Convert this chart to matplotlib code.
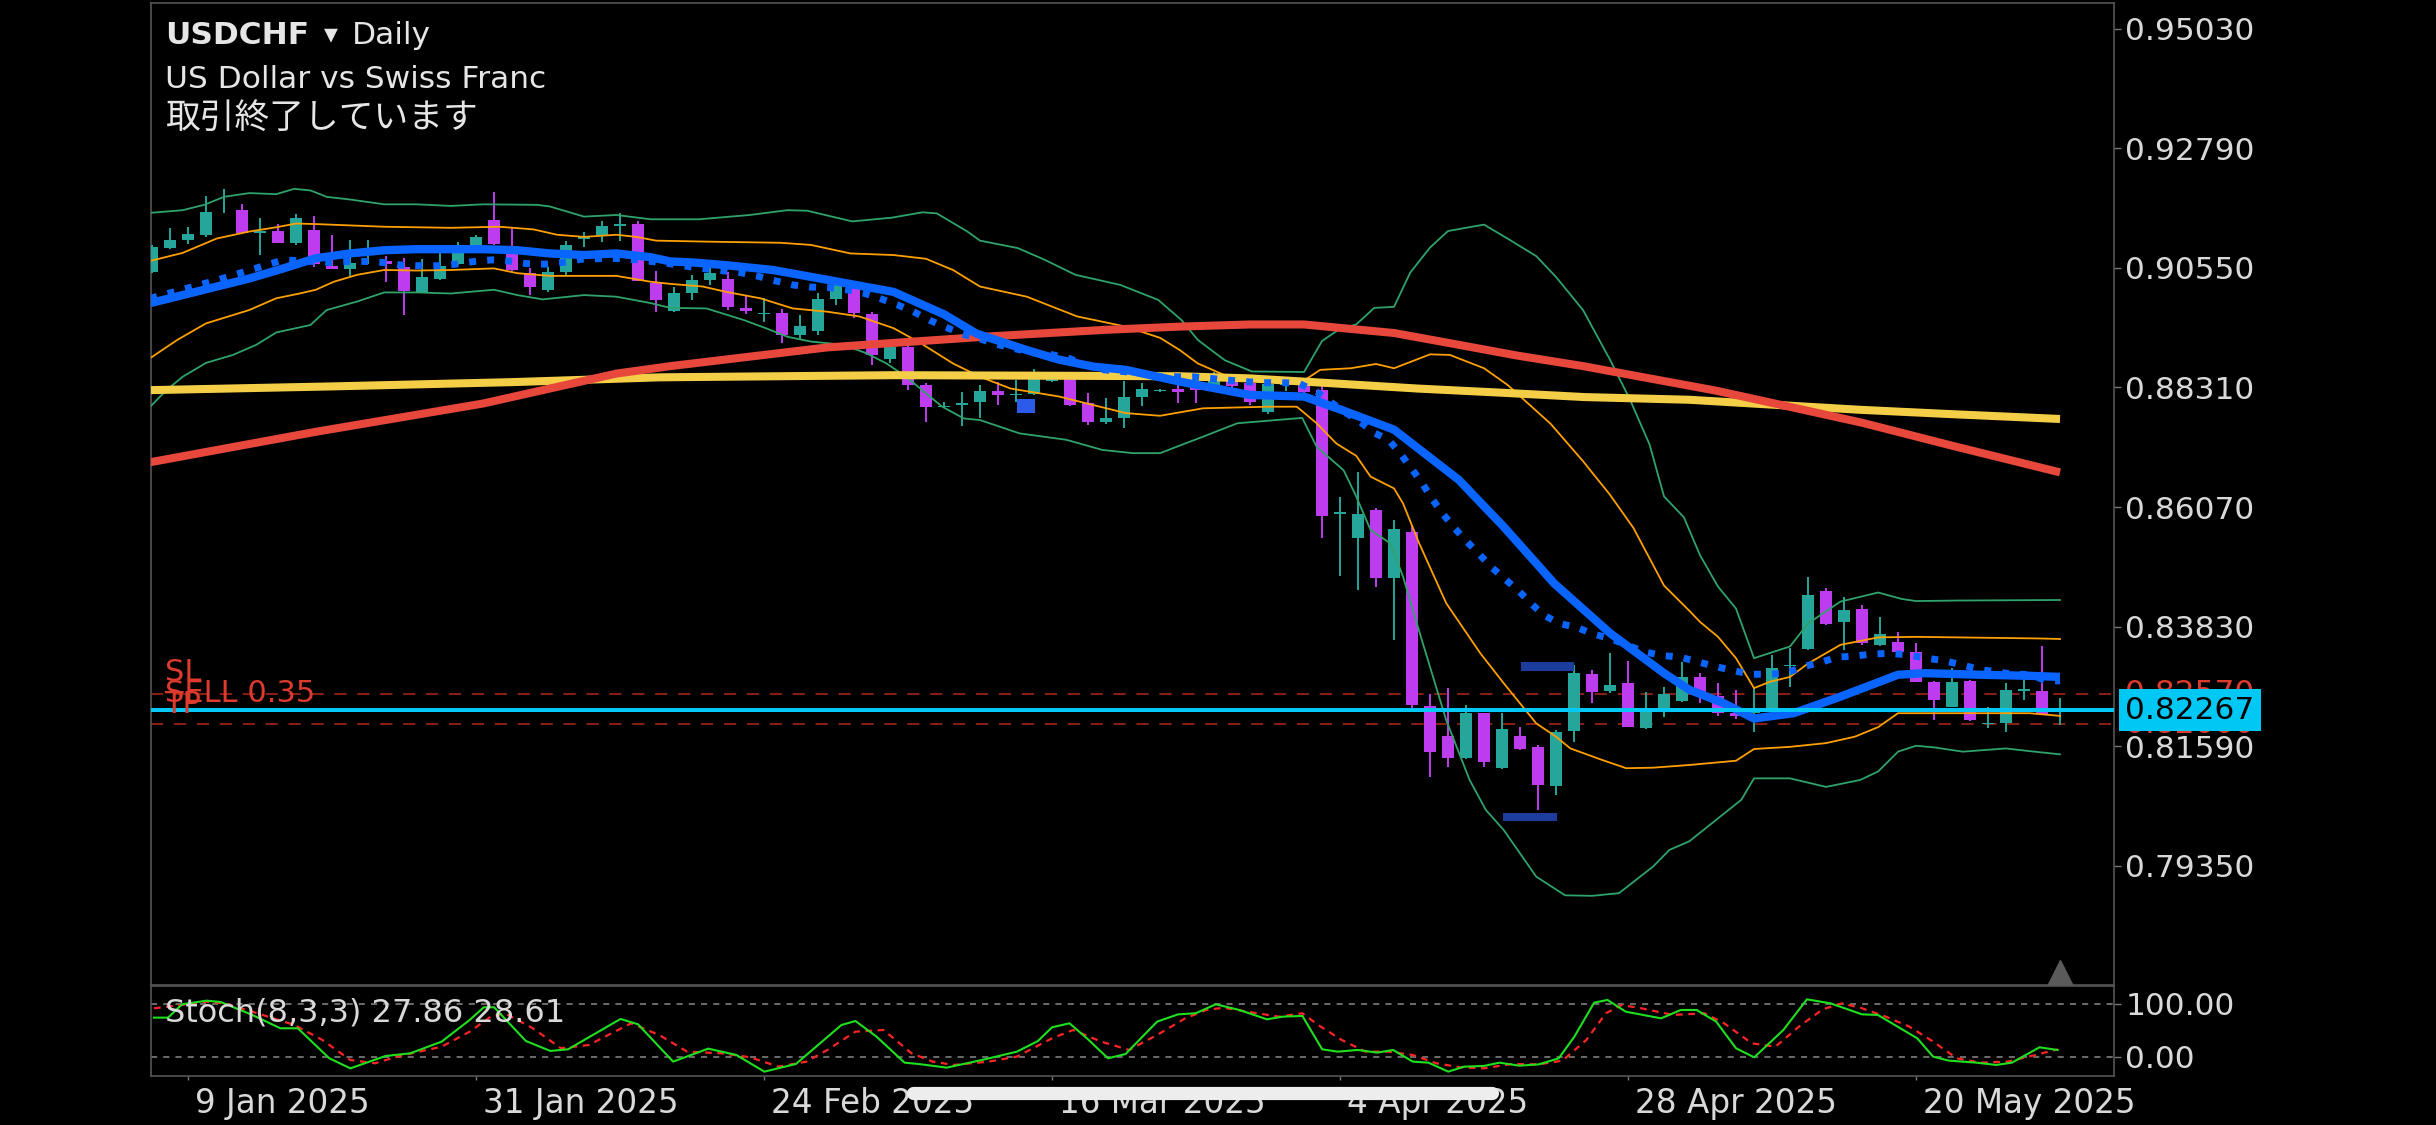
import numpy as np
import matplotlib.pyplot as plt
from matplotlib import transforms
from matplotlib.lines import Line2D

plt.rcParams['font.family'] = ['DejaVu Sans', 'Noto Sans CJK JP']

# daily USDCHF bars, left to right (index 0 = first visible bar)
opens = [0.9047, 0.9093, 0.9107, 0.9117, 0.9159, 0.9163, 0.9120, 0.9124, 0.9102, 0.9126,
         0.9059, 0.9053, 0.9067, 0.9068, 0.9057, 0.9010, 0.9034, 0.9062, 0.9097, 0.9145,
         0.9082, 0.9045, 0.9014, 0.9048, 0.9109, 0.9117, 0.9133, 0.9137, 0.9026, 0.8974,
         0.9007, 0.9032, 0.9035, 0.8979, 0.8968, 0.8970, 0.8929, 0.8937, 0.8996, 0.9017,
         0.8968, 0.8884, 0.8906, 0.8836, 0.8795, 0.8799, 0.8803, 0.8824, 0.8817, 0.8818,
         0.8844, 0.8848, 0.8801, 0.8766, 0.8773, 0.8813, 0.8825, 0.8829, 0.8834, 0.8833,
         0.8848, 0.8839, 0.8786, 0.8836, 0.8835, 0.8826, 0.8594, 0.8549, 0.8602, 0.8474,
         0.8560, 0.8235, 0.8178, 0.8137, 0.8221, 0.8119, 0.8178, 0.8157, 0.8085, 0.8188,
         0.8294, 0.8263, 0.8278, 0.8193, 0.8230, 0.8244, 0.8289, 0.8254, 0.8221, 0.8221,
         0.8228, 0.8310, 0.8341, 0.8450, 0.8391, 0.8416, 0.8349, 0.8354, 0.8336, 0.8280,
         0.8233, 0.8281, 0.8200, 0.8202, 0.8263, 0.8263, 0.8226]
highs = [0.9098, 0.9129, 0.9131, 0.9190, 0.9202, 0.9175, 0.9148, 0.9137, 0.9155, 0.9153,
         0.9116, 0.9107, 0.9108, 0.9077, 0.9073, 0.9071, 0.9082, 0.9104, 0.9117, 0.9198,
         0.9129, 0.9054, 0.9057, 0.9106, 0.9123, 0.9142, 0.9157, 0.9142, 0.9050, 0.9019,
         0.9042, 0.9054, 0.9048, 0.9004, 0.8998, 0.8978, 0.8967, 0.9007, 0.9035, 0.9026,
         0.8973, 0.8914, 0.8914, 0.8839, 0.8804, 0.8822, 0.8836, 0.8841, 0.8845, 0.8865,
         0.8858, 0.8851, 0.8820, 0.8811, 0.8844, 0.8840, 0.8829, 0.8836, 0.8839, 0.8860,
         0.8856, 0.8845, 0.8840, 0.8848, 0.8840, 0.8833, 0.8625, 0.8673, 0.8605, 0.8583,
         0.8573, 0.8257, 0.8268, 0.8236, 0.8222, 0.8221, 0.8195, 0.8162, 0.8190, 0.8311,
         0.8302, 0.8334, 0.8318, 0.8261, 0.8271, 0.8316, 0.8297, 0.8277, 0.8264, 0.8271,
         0.8330, 0.8343, 0.8477, 0.8455, 0.8439, 0.8424, 0.8402, 0.8374, 0.8353, 0.8281,
         0.8305, 0.8283, 0.8233, 0.8277, 0.8289, 0.8346, 0.8249]
lows = [0.9045, 0.9090, 0.9100, 0.9113, 0.9157, 0.9118, 0.9080, 0.9101, 0.9098, 0.9057,
        0.9052, 0.9039, 0.9062, 0.9029, 0.8967, 0.9009, 0.9033, 0.9060, 0.9082, 0.9098,
        0.9050, 0.9004, 0.9009, 0.9042, 0.9095, 0.9104, 0.9106, 0.9030, 0.8973, 0.8973,
        0.8995, 0.9023, 0.8976, 0.8969, 0.8954, 0.8914, 0.8920, 0.8929, 0.8986, 0.8961,
        0.8873, 0.8876, 0.8826, 0.8767, 0.8792, 0.8758, 0.8773, 0.8799, 0.8804, 0.8817,
        0.8842, 0.8797, 0.8761, 0.8762, 0.8756, 0.8797, 0.8822, 0.8801, 0.8801, 0.8825,
        0.8825, 0.8798, 0.8782, 0.8825, 0.8818, 0.8549, 0.8478, 0.8451, 0.8457, 0.8359,
        0.8230, 0.8101, 0.8120, 0.8135, 0.8121, 0.8116, 0.8153, 0.8040, 0.8067, 0.8168,
        0.8240, 0.8258, 0.8195, 0.8192, 0.8213, 0.8242, 0.8240, 0.8215, 0.8211, 0.8186,
        0.8226, 0.8271, 0.8339, 0.8387, 0.8339, 0.8349, 0.8346, 0.8327, 0.8279, 0.8208,
        0.8232, 0.8207, 0.8193, 0.8186, 0.8246, 0.8218, 0.8199]
closes = [0.9095, 0.9107, 0.9118, 0.9160, 0.9160, 0.9120, 0.9124, 0.9102, 0.9149, 0.9063,
          0.9053, 0.9065, 0.9068, 0.9062, 0.9012, 0.9037, 0.9059, 0.9082, 0.9112, 0.9100,
          0.9051, 0.9019, 0.9048, 0.9097, 0.9113, 0.9134, 0.9137, 0.9031, 0.8995, 0.9007,
          0.9032, 0.9046, 0.8981, 0.8975, 0.8970, 0.8929, 0.8946, 0.8997, 0.9023, 0.8970,
          0.8892, 0.8906, 0.8836, 0.8795, 0.8797, 0.8801, 0.8825, 0.8817, 0.8819, 0.8851,
          0.8851, 0.8799, 0.8766, 0.8773, 0.8813, 0.8829, 0.8826, 0.8823, 0.8826, 0.8851,
          0.8833, 0.8803, 0.8837, 0.8840, 0.8823, 0.8591, 0.8597, 0.8594, 0.8474, 0.8566,
          0.8236, 0.8149, 0.8137, 0.8221, 0.8129, 0.8191, 0.8154, 0.8087, 0.8186, 0.8296,
          0.8260, 0.8274, 0.8196, 0.8223, 0.8257, 0.8288, 0.8253, 0.8221, 0.8215, 0.8223,
          0.8305, 0.8312, 0.8442, 0.8388, 0.8414, 0.8352, 0.8369, 0.8336, 0.8280, 0.8245,
          0.8280, 0.8208, 0.8202, 0.8264, 0.8266, 0.8220, 0.82267]

# bollinger bands (20, 1 and 2 dev)
bb2_up_x = [-0.1, 1.7, 2.9, 4.0, 5.4, 6.9, 7.9, 8.8, 9.7, 11.0, 12.9, 14.7, 16.6, 18.4, 21.4, 22.1,
            24.0, 25.8, 27.7, 30.4, 33.2, 35.3, 36.4, 38.9, 41.1, 42.8, 43.6, 45.3, 46.0, 48.1,
            49.6, 51.3, 53.8, 55.9, 57.2, 58.1, 59.6, 61.1, 64.0, 65.0, 66.0, 66.9, 67.9, 69.0,
            69.9, 71.0, 72.0, 74.0, 75.4, 76.9, 78.0, 79.5, 81.0, 82.1, 83.2, 84.0, 85.1, 86.0,
            87.0, 88.0, 89.0, 91.0, 92.0, 93.8, 95.9, 97.2, 98.0, 100.3, 106.0]
bb2_up = [0.9158, 0.9163, 0.9173, 0.9188, 0.9195, 0.9193, 0.9203, 0.9200, 0.9188, 0.9183,
          0.9174, 0.9174, 0.9171, 0.9174, 0.9173, 0.9170, 0.9151, 0.9154, 0.9146, 0.9146,
          0.9154, 0.9163, 0.9162, 0.9142, 0.9149, 0.9159, 0.9157, 0.9123, 0.9106, 0.9092,
          0.9070, 0.9042, 0.9023, 0.8995, 0.8957, 0.8920, 0.8882, 0.8861, 0.8860, 0.8918,
          0.8941, 0.8949, 0.8980, 0.8982, 0.9046, 0.9093, 0.9124, 0.9136, 0.9108, 0.9077,
          0.9038, 0.8976, 0.8883, 0.8809, 0.8724, 0.8627, 0.8588, 0.8517, 0.8458, 0.8417,
          0.8324, 0.8346, 0.8389, 0.8430, 0.8447, 0.8435, 0.8431, 0.8432, 0.8433]
bb1_up_x = [-0.1, 1.7, 3.6, 5.4, 6.9, 8.0, 9.1, 12.9, 16.6, 19.3, 21.2, 22.5, 24.0, 25.8, 26.9,
            28.0, 31.0, 34.9, 36.6, 38.8, 41.2, 43.0, 44.5, 46.0, 48.6, 51.4, 54.1, 56.0, 57.1,
            58.1, 60.2, 62.3, 64.0, 64.9, 66.6, 68.0, 69.0, 71.0, 72.1, 74.0, 75.3, 77.7, 79.5,
            81.0, 82.3, 84.0, 85.4, 86.0, 87.0, 88.0, 89.0, 89.9, 91.0, 92.0, 93.8, 95.9, 98.0,
            104.8, 106.0]
bb1_up = [0.9068, 0.9083, 0.9110, 0.9123, 0.9131, 0.9138, 0.9137, 0.9132, 0.9130, 0.9132,
          0.9127, 0.9117, 0.9113, 0.9117, 0.9113, 0.9106, 0.9104, 0.9102, 0.9098, 0.9082,
          0.9079, 0.9072, 0.9051, 0.9020, 0.9001, 0.8964, 0.8945, 0.8924, 0.8901, 0.8876,
          0.8845, 0.8844, 0.8844, 0.8864, 0.8867, 0.8875, 0.8867, 0.8893, 0.8892, 0.8867,
          0.8836, 0.8763, 0.8693, 0.8630, 0.8568, 0.8460, 0.8413, 0.8392, 0.8364, 0.8324,
          0.8268, 0.8280, 0.8289, 0.8314, 0.8349, 0.8363, 0.8364, 0.8361, 0.8360]
bb1_lo_x = [-0.1, 1.4, 3.0, 5.4, 6.9, 8.2, 9.1, 10.1, 11.4, 12.9, 14.7, 16.6, 19.0, 20.3, 22.1,
            25.8, 27.7, 28.8, 30.6, 31.9, 33.8, 35.6, 37.5, 39.3, 41.2, 42.7, 44.5, 46.0, 47.7,
            50.4, 52.3, 54.1, 56.0, 58.4, 62.0, 63.6, 64.7, 65.8, 66.9, 67.7, 69.0, 69.5, 70.4,
            71.9, 73.8, 75.1, 76.9, 78.0, 78.8, 80.6, 81.9, 83.4, 85.4, 88.0, 89.0, 91.0, 93.0,
            94.6, 95.9, 97.0, 98.0, 104.3, 106.0]
bb1_lo = [0.8886, 0.8920, 0.8951, 0.8976, 0.8998, 0.9007, 0.9014, 0.9029, 0.9042, 0.9051,
          0.9050, 0.9051, 0.9054, 0.9045, 0.9040, 0.9040, 0.9029, 0.9025, 0.9020, 0.9010,
          0.8998, 0.8979, 0.8973, 0.8964, 0.8942, 0.8914, 0.8876, 0.8851, 0.8829, 0.8814,
          0.8798, 0.8783, 0.8778, 0.8792, 0.8795, 0.8795, 0.8764, 0.8726, 0.8703, 0.8664,
          0.8642, 0.8614, 0.8539, 0.8427, 0.8333, 0.8277, 0.8202, 0.8177, 0.8155, 0.8133,
          0.8118, 0.8119, 0.8124, 0.8132, 0.8154, 0.8158, 0.8165, 0.8177, 0.8195, 0.8221,
          0.8221, 0.8221, 0.8216]
bb2_lo_x = [-0.1, 0.8, 1.7, 3.0, 4.5, 5.8, 6.9, 8.8, 9.7, 11.4, 12.9, 14.7, 16.6, 19.0, 20.3,
            21.7, 24.0, 25.8, 27.7, 28.8, 30.8, 32.9, 34.1, 35.3, 36.6, 38.4, 39.7, 40.8, 41.9,
            43.0, 43.9, 45.1, 46.0, 48.2, 50.8, 52.8, 54.5, 56.0, 58.4, 60.3, 63.9, 64.7, 66.2,
            66.9, 67.7, 68.8, 69.5, 70.6, 71.9, 73.2, 74.1, 75.1, 76.9, 78.5, 80.0, 81.5, 83.4,
            84.3, 85.4, 88.3, 89.0, 91.0, 93.0, 94.9, 95.9, 97.0, 98.0, 99.0, 100.6, 103.0,
            104.3, 106.0]
bb2_lo = [0.8795, 0.8826, 0.8851, 0.8877, 0.8892, 0.8911, 0.8934, 0.8948, 0.8976, 0.8992,
          0.9009, 0.9009, 0.9007, 0.9014, 0.9004, 0.8996, 0.9004, 0.9001, 0.8989, 0.8980,
          0.8979, 0.8957, 0.8942, 0.8926, 0.8917, 0.8911, 0.8895, 0.8876, 0.8851, 0.8820,
          0.8795, 0.8773, 0.8770, 0.8745, 0.8733, 0.8714, 0.8708, 0.8708, 0.8739, 0.8764,
          0.8774, 0.8720, 0.8676, 0.8627, 0.8564, 0.8539, 0.8477, 0.8352, 0.8208, 0.8096,
          0.8040, 0.8002, 0.7915, 0.7880, 0.7879, 0.7884, 0.7934, 0.7965, 0.7981, 0.8059,
          0.8099, 0.8099, 0.8083, 0.8096, 0.8112, 0.8149, 0.8160, 0.8157, 0.8149, 0.8155,
          0.8150, 0.8144]

# moving averages
ma_mid_x = [-0.1, 1.7, 3.6, 5.4, 7.3, 9.1, 11.0, 12.9, 14.7, 16.6, 18.4, 20.3, 22.1, 24.0, 25.8,
            27.7, 28.8, 30.1, 31.9, 34.5, 38.6, 41.2, 44.0, 45.8, 48.6, 50.4, 52.3, 54.1, 57.1,
            61.0, 64.0, 66.0, 69.0, 72.6, 75.1, 77.9, 81.0, 84.0, 85.4, 87.3, 89.0, 91.2, 93.8,
            97.0, 98.5, 101.6, 104.3, 106.0]
ma_mid = [0.8989, 0.9004, 0.9020, 0.9035, 0.9054, 0.9073, 0.9082, 0.9088, 0.9090, 0.9090,
          0.9090, 0.9088, 0.9082, 0.9079, 0.9082, 0.9075, 0.9067, 0.9065, 0.9060, 0.9051,
          0.9026, 0.9010, 0.8968, 0.8932, 0.8901, 0.8883, 0.8870, 0.8864, 0.8842, 0.8817,
          0.8814, 0.8790, 0.8752, 0.8658, 0.8570, 0.8464, 0.8371, 0.8296, 0.8265, 0.8240,
          0.8211, 0.8221, 0.8252, 0.8293, 0.8296, 0.8293, 0.8291, 0.8289]
ma_fast_x = [-0.1, 3.6, 7.3, 9.9, 10.9, 11.9, 12.9, 13.9, 14.9, 15.9, 16.9, 17.9, 18.9, 19.8,
             20.8, 21.8, 22.8, 23.8, 25.5, 27.0, 28.5, 30.5, 32.7, 33.7, 34.6, 35.6, 36.6, 37.6,
             38.6, 39.6, 40.5, 41.4, 42.3, 43.2, 44.1, 45.0, 46.0, 46.9, 47.9, 48.9, 49.9, 50.9,
             51.9, 52.9, 53.9, 54.9, 56.0, 57.8, 58.8, 59.7, 60.7, 61.7, 62.7, 63.7, 64.7, 66.2,
             67.1, 67.9, 68.7, 69.4, 70.0, 70.6, 71.1, 71.7, 72.3, 73.0, 73.7, 74.4, 75.1, 75.9,
             76.6, 77.3, 78.2, 79.2, 80.1, 81.0, 82.9, 83.9, 84.9, 86.8, 87.8, 88.8, 89.8, 90.8,
             91.7, 92.7, 93.6, 94.6, 95.6, 96.6, 97.6, 98.6, 99.6, 100.6, 101.5, 103.0, 104.3,
             105.4, 106.0]
ma_fast = [0.8998, 0.9032, 0.9070, 0.9065, 0.9067, 0.9067, 0.9065, 0.9060, 0.9059, 0.9059,
           0.9062, 0.9067, 0.9070, 0.9068, 0.9063, 0.9062, 0.9065, 0.9071, 0.9073, 0.9070,
           0.9064, 0.9054, 0.9046, 0.9039, 0.9031, 0.9023, 0.9019, 0.9018, 0.9014, 0.9007,
           0.8997, 0.8986, 0.8973, 0.8957, 0.8944, 0.8931, 0.8922, 0.8912, 0.8904, 0.8896,
           0.8893, 0.8886, 0.8873, 0.8864, 0.8861, 0.8858, 0.8851, 0.8851, 0.8848, 0.8845,
           0.8842, 0.8840, 0.8840, 0.8839, 0.8823, 0.8786, 0.8767, 0.8746, 0.8733, 0.8705,
           0.8678, 0.8650, 0.8623, 0.8595, 0.8570, 0.8544, 0.8520, 0.8495, 0.8474, 0.8451,
           0.8427, 0.8405, 0.8389, 0.8381, 0.8369, 0.8361, 0.8336, 0.8329, 0.8326, 0.8309,
           0.8301, 0.8294, 0.8294, 0.8296, 0.8308, 0.8316, 0.8326, 0.8328, 0.8332, 0.8333,
           0.8330, 0.8324, 0.8319, 0.8311, 0.8303, 0.8296, 0.8293, 0.8280, 0.8282]
ma100_x = [-0.1, 9.1, 18.4, 25.8, 28.8, 37.5, 46.7, 53.0, 57.1, 61.0, 64.0, 69.0, 72.1, 75.8,
           79.5, 83.2, 86.9, 88.8, 95.0, 100.0, 106.0]
ma100 = [0.8691, 0.8748, 0.8801, 0.8857, 0.8871, 0.8906, 0.8927, 0.8939, 0.8945, 0.8949,
         0.8949, 0.8933, 0.8914, 0.8891, 0.8871, 0.8848, 0.8825, 0.8811, 0.8765, 0.8722, 0.8672]
ma200_x = [-0.1, 10.0, 20.0, 28.2, 41.2, 50.0, 57.1, 61.0, 65.0, 70.3, 75.1, 79.6, 85.4, 88.9,
           95.0, 100.0, 106.0]
ma200 = [0.8826, 0.8833, 0.8841, 0.8850, 0.8854, 0.8853, 0.8852, 0.8848, 0.8840, 0.8829,
         0.8821, 0.8813, 0.8808, 0.8801, 0.8789, 0.8781, 0.8772]

# stochastic (8,3,3)
stoch_k_x = [0.11, 0.89, 1.67, 3.03, 3.81, 5.57, 7.13, 8.10, 9.85, 11.02, 12.97, 14.34, 16.09,
             17.65, 18.43, 19.01, 20.77, 22.13, 23.11, 26.03, 27.00, 28.95, 30.90, 32.46, 34.02,
             35.77, 38.30, 39.08, 40.25, 41.81, 42.59, 44.15, 46.10, 48.05, 49.22, 50.0, 50.97,
             51.94, 53.11, 54.09, 55.84, 57.01, 57.98, 59.10, 60.41, 61.94, 62.82, 63.91, 65.01,
             65.88, 66.98, 68.07, 68.95, 70.04, 70.92, 72.01, 72.89, 73.99, 74.86, 75.96, 77.05,
             78.15, 79.02, 80.12, 80.86, 81.87, 83.84, 84.93, 85.81, 86.90, 88.00, 89.01, 90.63,
             91.94, 93.25, 95.00, 95.88, 98.07, 98.95, 99.82, 101.36, 102.45, 103.33, 104.86,
             105.87]
stoch_k = [64.3, 64.3, 79.3, 83.4, 81.9, 67.3, 52.3, 52.3, 18.5, 7.2, 21.1, 24.1, 37.3, 61.7,
           75.9, 75.9, 38.0, 26.8, 28.6, 62.8, 56.8, 14.8, 29.4, 22.3, 3.5, 12.1, 56.0, 60.5,
           42.9, 13.6, 12.1, 8.0, 16.6, 26.0, 38.0, 53.4, 57.9, 41.0, 18.5, 23.4, 59.8, 68.0,
           69.2, 79.3, 72.9, 62.4, 65.4, 66.2, 28.6, 26.0, 27.9, 24.9, 27.9, 14.8, 13.6, 3.5,
           9.1, 9.9, 13.6, 10.2, 11.7, 18.5, 42.9, 81.2, 84.2, 71.0, 63.5, 72.9, 72.9, 59.8,
           29.8, 19.6, 50.4, 84.9, 80.4, 68.0, 67.3, 41.0, 20.4, 15.9, 13.6, 11.0, 13.6, 30.9,
           27.86]
stoch_d_x = [0.11, 1.67, 3.03, 4.01, 5.57, 7.91, 9.47, 11.02, 12.39, 13.75, 16.09, 17.65, 18.82,
             19.60, 21.16, 22.72, 24.27, 26.61, 28.17, 29.73, 31.68, 33.24, 34.80, 36.36, 37.52,
             39.08, 40.64, 42.20, 43.37, 44.54, 46.49, 48.05, 50.00, 51.17, 52.73, 54.28, 55.84,
             57.40, 58.57, 59.53, 60.85, 62.60, 63.91, 64.79, 66.10, 67.42, 68.73, 70.04, 71.36,
             72.67, 73.99, 75.52, 77.05, 78.36, 79.68, 80.77, 81.65, 82.74, 84.50, 86.25, 87.34,
             88.88, 90.19, 91.50, 92.82, 93.91, 95.00, 96.32, 97.63, 98.95, 100.26, 101.58,
             103.11, 104.64, 105.87]
stoch_d = [74.8, 78.5, 82.3, 80.4, 71.0, 56.0, 39.1, 16.6, 12.9, 21.1, 31.6, 48.5, 65.5, 69.2,
           52.3, 29.8, 33.5, 57.9, 44.8, 26.0, 24.1, 19.6, 9.1, 14.8, 27.9, 48.5, 50.4, 24.1,
           14.8, 11.0, 14.8, 20.4, 41.0, 50.4, 37.3, 27.9, 44.8, 63.5, 72.9, 75.5, 71.0, 65.4,
           69.2, 56.0, 39.1, 26.0, 26.0, 22.3, 12.9, 8.4, 7.2, 12.1, 11.7, 15.9, 39.1, 69.2,
           78.5, 74.8, 67.3, 69.2, 57.9, 35.4, 31.6, 54.2, 73.7, 80.4, 74.8, 65.4, 54.2, 37.3,
           18.5, 13.6, 14.8, 22.3, 28.61]
stoch_levels = [80, 20]
stoch_level_labels = ['100.00', '0.00']

# trade objects drawn on the chart: x from, x to, low, high
obj_x0 = [48.04, 76.04, 75.07]
obj_x1 = [49.06, 79.00, 78.04]
obj_lo = [0.8784, 0.8300, 0.8020]
obj_hi = [0.8810, 0.8316, 0.8035]
obj_colors = ['#2B5BE8', '#1D3D9E', '#1D3D9E']

bid = 0.82267
sl_price = 0.82570
tp_price = 0.82000

price_ticks = [0.95030, 0.92790, 0.90550, 0.88310, 0.86070, 0.83830, 0.81590, 0.79350]
date_ticks = [2, 18, 34, 50, 66, 82, 98]
date_labels = ['9 Jan 2025', '31 Jan 2025', '24 Feb 2025', '16 Mar 2025',
               '4 Apr 2025', '28 Apr 2025', '20 May 2025']

TEAL = '#26A69A'
MAGENTA = '#BE3CEF'
TXT = '#D9D9D9'
FRAME = '#555555'
RED_TXT = '#DD3B2E'

fig = plt.figure(figsize=(24.36, 11.25), dpi=100, facecolor='black')
ax = fig.add_axes([0.06199, 0.12444, 0.80583, 0.87289], facecolor='black')
ax2 = fig.add_axes([0.06199, 0.04356, 0.80583, 0.08], facecolor='black')

# candles
o = np.array(opens)
h = np.array(highs)
l = np.array(lows)
c = np.array(closes)
idx = np.arange(len(c))
cols = np.where(c >= o, TEAL, MAGENTA)
ax.vlines(idx, l, h, colors=cols, lw=1.4, zorder=3)
ax.bar(idx, np.maximum(np.abs(c - o), 0.00012), bottom=np.minimum(o, c), width=0.68,
       color=cols, linewidth=0, zorder=3)

# sl / tp dashed lines sit under the candles
for p in (sl_price, tp_price):
    ax.axhline(p, color='#B0281C', lw=1.1, dashes=(8, 7), zorder=1)

# indicators
ax.plot(bb2_up_x, bb2_up, color='#2FA36B', lw=1.3, zorder=4)
ax.plot(bb2_lo_x, bb2_lo, color='#2FA36B', lw=1.3, zorder=4)
ax.plot(bb1_up_x, bb1_up, color='#FFA000', lw=1.3, zorder=4)
ax.plot(bb1_lo_x, bb1_lo, color='#FFA000', lw=1.3, zorder=4)
ax.plot(ma200_x, ma200, color='#F5CE47', lw=5.8, zorder=5, solid_capstyle='butt')
ax.plot(ma100_x, ma100, color='#E8483B', lw=5.8, zorder=5, solid_capstyle='butt')
ax.plot(ma_fast_x, ma_fast, color='#0A64FF', lw=5.0, dashes=(1.0, 1.6),
        dash_capstyle='butt', zorder=6)
ax.plot(ma_mid_x, ma_mid, color='#0A64FF', lw=6.0, zorder=6, solid_capstyle='butt')

for x0, x1, lo, hi, col in zip(obj_x0, obj_x1, obj_lo, obj_hi, obj_colors):
    ax.bar((x0 + x1) / 2, hi - lo, bottom=lo, width=x1 - x0, color=col, linewidth=0, zorder=6)

# bid line
ax.axhline(bid, color='#00C8F5', lw=2.9, zorder=7)

# order labels on the left (they overlap in the app too)
xt = transforms.blended_transform_factory(ax.transAxes, ax.transData)
ax.text(0.0069, sl_price + 0.0024, 'SL', transform=xt, color=RED_TXT, fontsize=22,
        va='baseline', zorder=8)
ax.text(0.0069, bid + 0.0016, 'SELL 0.35', transform=xt, color=RED_TXT, fontsize=22,
        va='baseline', zorder=8)
ax.text(0.0069, tp_price + 0.0021, 'TP', transform=xt, color=RED_TXT, fontsize=22,
        va='baseline', zorder=8)

# price labels on the right axis
for p in (sl_price, tp_price):
    ax.annotate(f'{p:.5f}', xy=(1.0, p), xycoords=('axes fraction', 'data'), xytext=(11, 0),
                textcoords='offset pixels', ha='left', va='center', fontsize=22.5,
                color=RED_TXT, zorder=9, annotation_clip=False)
ax.annotate(f'{bid:.5f}', xy=(1.0, bid), xycoords=('axes fraction', 'data'), xytext=(11, 0),
            textcoords='offset pixels', ha='left', va='center', fontsize=22.5, color='black',
            bbox=dict(boxstyle='square,pad=0.2', fc='#00C8F5', ec='none'),
            zorder=10, annotation_clip=False)

# shift marker
bt = transforms.blended_transform_factory(ax.transData, ax.transAxes)
ax.plot([idx[-1]], [0.012], marker='^', ms=19, color='#5a5a5a', transform=bt,
        clip_on=False, zorder=8)

ax.set_xlim(-0.056, 109.0)
ax.set_ylim(0.7712, 0.9551)
ax.set_yticks(price_ticks)
ax.set_yticklabels([f'{p:.5f}' for p in price_ticks])
ax.yaxis.tick_right()
ax.tick_params(axis='y', length=5, width=1, color='#777777', labelcolor=TXT,
               labelsize=22.5, pad=3)
ax.tick_params(axis='x', bottom=False, labelbottom=False)
for s in ax.spines.values():
    s.set_color(FRAME)
    s.set_linewidth(1.2)

# title block
fig.text(165 / 2436, 1 - 35 / 1125, 'USDCHF', fontsize=22.5, fontweight='bold', color='#E6E6E6',
         va='center')
fig.text(324 / 2436, 1 - 34 / 1125, '▾', fontsize=20, color='#E6E6E6', va='center')
fig.text(352 / 2436, 1 - 35 / 1125, 'Daily', fontsize=22.5, color='#E6E6E6', va='center')
fig.text(165 / 2436, 1 - 79 / 1125, 'US Dollar vs Swiss Franc', fontsize=22.5, color='#E6E6E6',
         va='center')
fig.text(165 / 2436, 1 - 118 / 1125, '取引終了しています', fontsize=25, color='#E6E6E6',
         va='center', family=['Noto Sans CJK JP', 'DejaVu Sans'])

# stochastic panel
for lv in stoch_levels:
    ax2.axhline(lv, color='#8a8a8a', lw=1.1, dashes=(4, 4), zorder=1)
ax2.plot(stoch_k_x, stoch_k, color='#1FE01F', lw=1.5, zorder=3)
ax2.plot(stoch_d_x, stoch_d, color='#FF2424', lw=1.6, dashes=(3, 2.5), zorder=2)
ax2.text(0.0069, 0.70, f'Stoch(8,3,3) {stoch_k[-1]:.2f} {stoch_d[-1]:.2f}',
         transform=ax2.transAxes, color=TXT, fontsize=23, va='center', zorder=5)
ax2.set_xlim(-0.056, 109.0)
ax2.set_ylim(-1.4, 99.9)
ax2.set_yticks(stoch_levels)
ax2.set_yticklabels(stoch_level_labels)
ax2.yaxis.tick_right()
ax2.tick_params(axis='y', length=5, width=1, color='#777777', labelcolor=TXT,
                labelsize=22.5, pad=3)
ax2.set_xticks(date_ticks)
ax2.set_xticklabels(date_labels, ha='left')
ax2.tick_params(axis='x', length=3, width=1, color='#777777', labelcolor=TXT,
                labelsize=23.5, pad=5)
shift = transforms.ScaledTranslation(7 / 100, 0, fig.dpi_scale_trans)
for lab in ax2.get_xticklabels():
    lab.set_transform(lab.get_transform() + shift)
for s in ax2.spines.values():
    s.set_color(FRAME)
    s.set_linewidth(1.2)

# scroll bar overlay at the bottom
fig.add_artist(Line2D([913 / 2436, 1492 / 2436], [1 - 1093 / 1125, 1 - 1093 / 1125],
                      transform=fig.transFigure, color='#EDEDED', lw=9.5,
                      solid_capstyle='round', zorder=20))

fig.savefig('out.png', dpi=100, facecolor='black')
